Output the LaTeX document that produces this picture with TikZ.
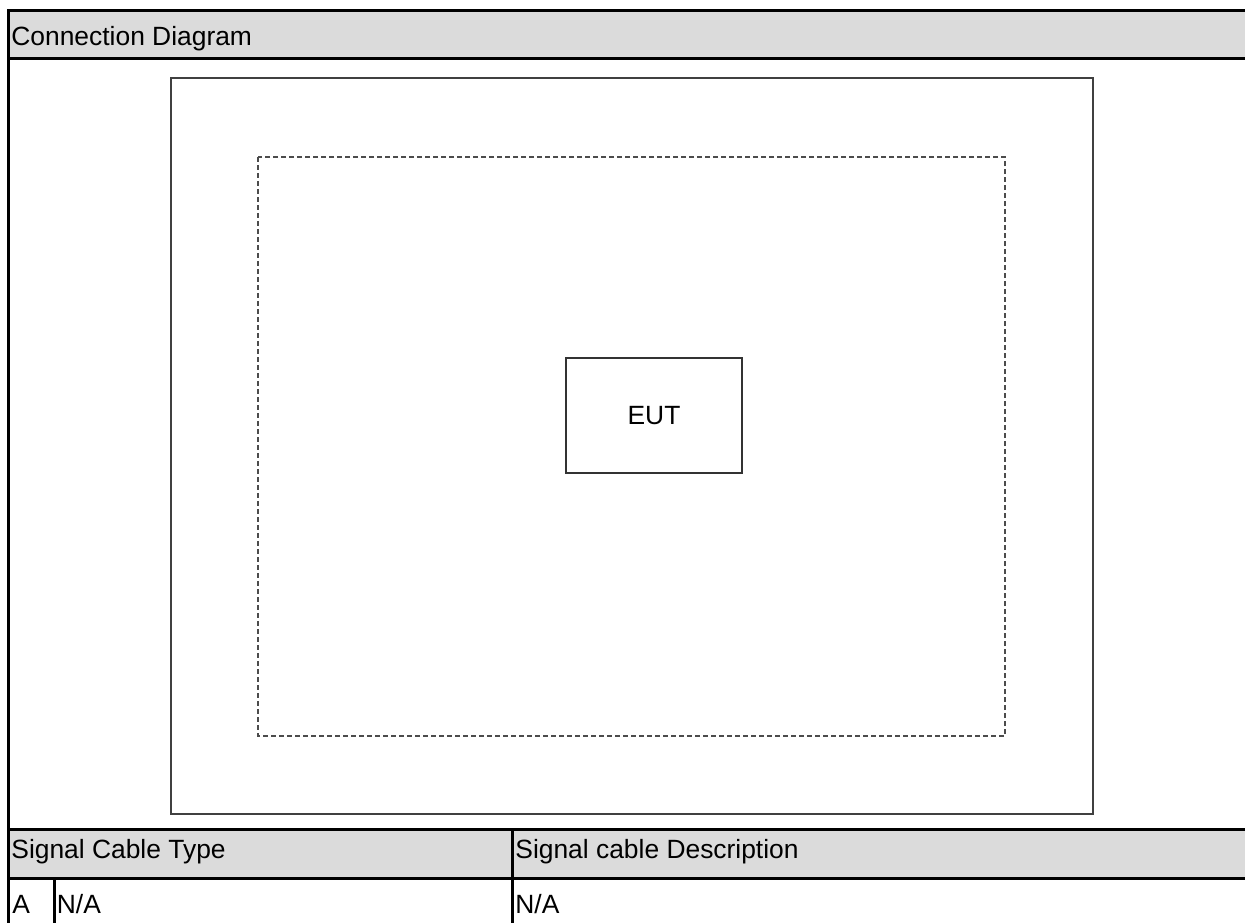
\documentclass[tikz,border=0pt]{standalone}
\usepackage{fontspec}
\setmainfont{Liberation Sans}
\begin{document}
\begin{tikzpicture}[x=0.5pt,y=-0.5pt,
  tableline/.style={line width=1.5pt,black},
  bandfill/.style={fill=black!14},
  outerbox/.style={line width=1pt,draw=black!75},
  zonebox/.style={line width=0.75pt,draw=black!70,dash pattern=on 2.5pt off 1.5pt},
  eutbox/.style={line width=0.8pt,draw=black!80,minimum width=88pt,minimum height=57.5pt,inner sep=0pt},
  label/.style={anchor=base west,inner sep=0pt,font=\fontsize{13.2}{15}\selectfont}]
\useasboundingbox (0,0) rectangle (1245,923);
% bands
\fill[bandfill] (8,10) rectangle (1245,58);
\fill[bandfill] (8,829) rectangle (1245,878);
% table lines
\draw[tableline] (1245,10) -- (8,10) -- (8,923);
\draw[tableline] (8,58) -- (1245,58);
\draw[tableline] (8,829) -- (1245,829);
\draw[tableline] (8,878) -- (1245,878);
\draw[tableline] (512,829) -- (512,923);
\draw[tableline] (54,878) -- (54,923);
% boxes
\draw[outerbox] (171,78) rectangle (1093,814);
\draw[zonebox] (258,157) rectangle (1005,736);
\node[eutbox,draw,font=\fontsize{13.2}{15}\selectfont] (eut) at (654,415.5) {EUT};
% texts
\node[label] (title) at (11,45) {Connection Diagram};
\node[label] (typehead) at (11,858) {Signal Cable Type};
\node[label] (deschead) at (515,858) {Signal cable Description};
\node[label] (rowa) at (12,913) {A};
\node[label] (rowtype) at (56.5,913) {N/A};
\node[label] (rowdesc) at (515,913) {N/A};
\end{tikzpicture}
\end{document}
